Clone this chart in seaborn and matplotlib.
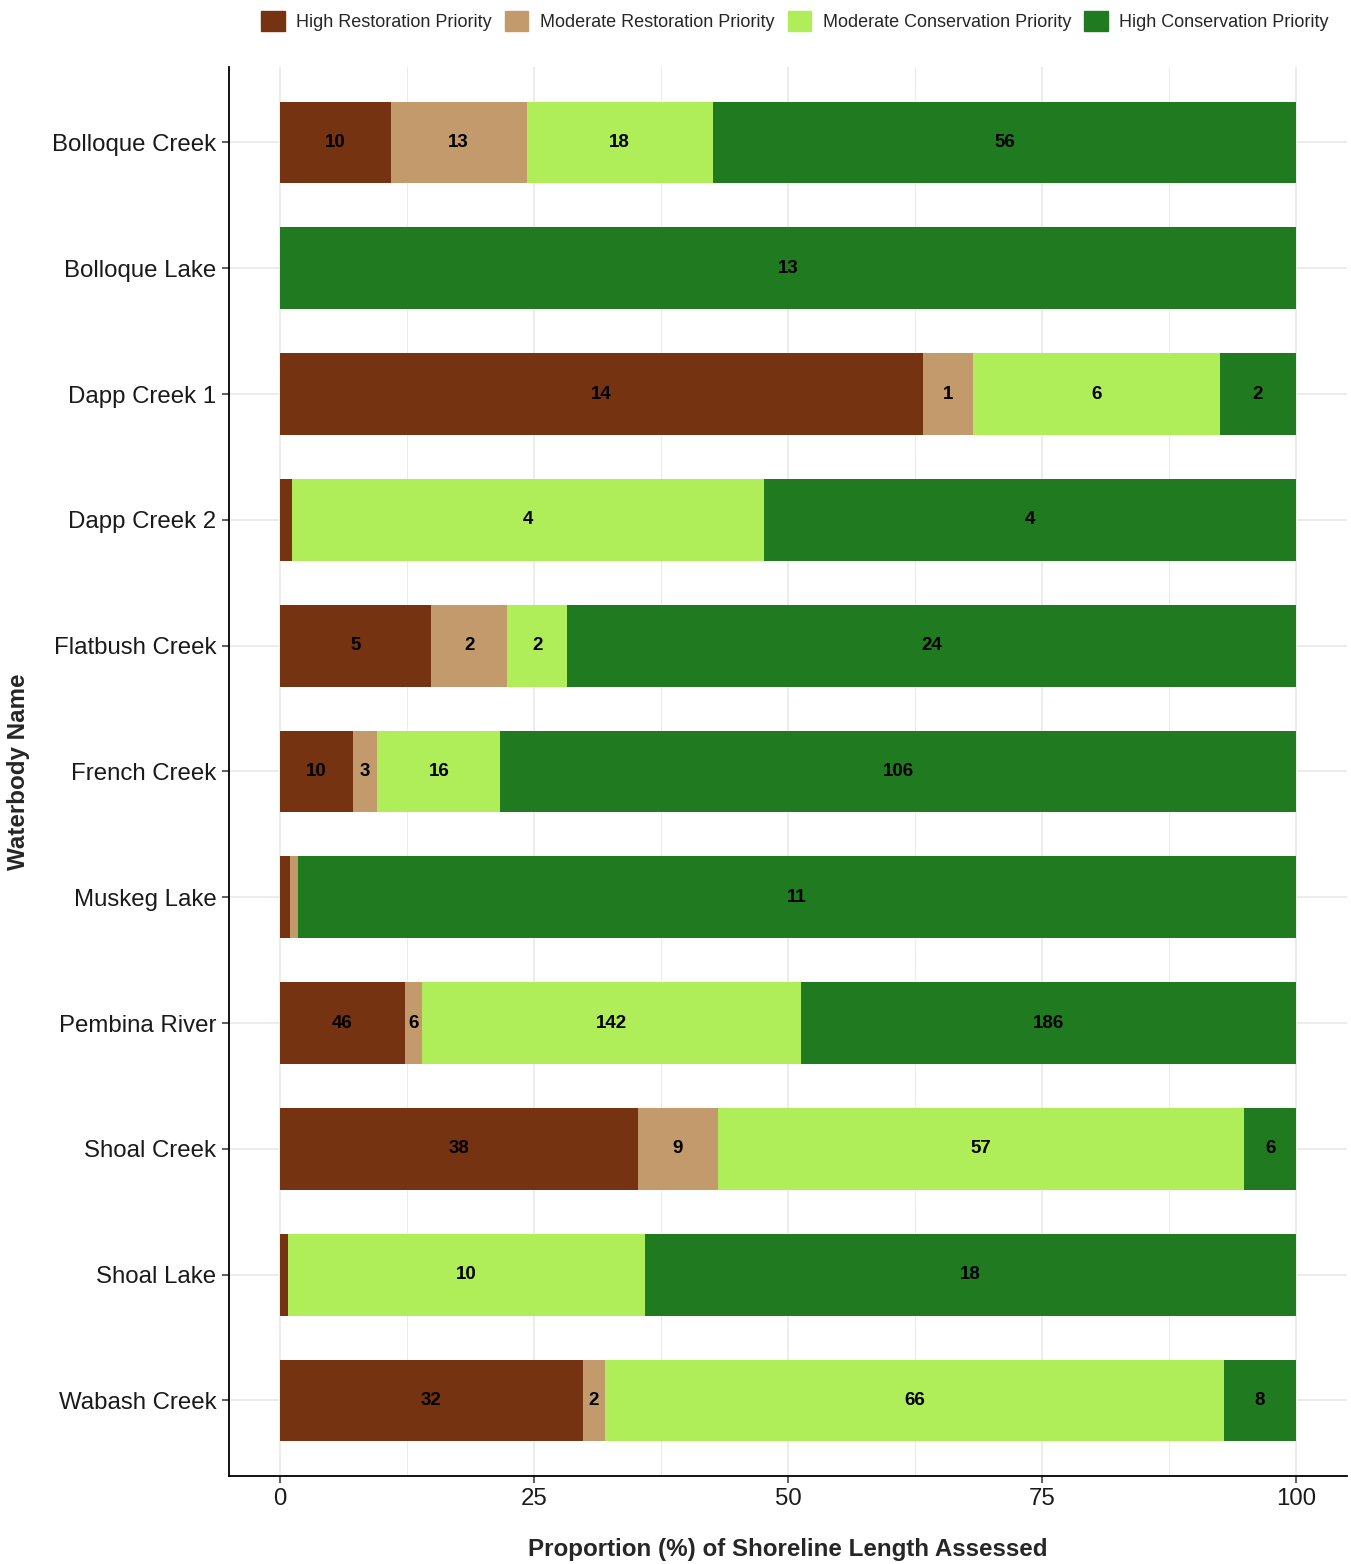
import matplotlib
matplotlib.use("Agg")
import matplotlib.pyplot as plt
import matplotlib.patches as mpatches
import numpy as np
import pandas as pd
import seaborn as sns

waterbodies = ["Bolloque Creek", "Bolloque Lake", "Dapp Creek 1", "Dapp Creek 2",
               "Flatbush Creek", "French Creek", "Muskeg Lake", "Pembina River",
               "Shoal Creek", "Shoal Lake", "Wabash Creek"]
priorities = ["High Restoration Priority", "Moderate Restoration Priority",
              "Moderate Conservation Priority", "High Conservation Priority"]
colors = ["#753312", "#C29A6C", "#AFEE58", "#207B20"]

# proportion (%) of shoreline length per priority class
high_rest_pct = [10.9, 0.0, 63.3, 1.2, 14.9, 7.2, 1.0, 12.3, 35.2, 0.8, 29.8]
mod_rest_pct = [13.4, 0.0, 4.9, 0.0, 7.5, 2.4, 0.8, 1.7, 7.9, 0.0, 2.2]
mod_cons_pct = [18.3, 0.0, 24.3, 46.4, 5.9, 12.1, 0.0, 37.3, 51.8, 35.1, 60.9]
high_cons_pct = [57.4, 100.0, 7.5, 52.4, 71.7, 78.3, 98.2, 48.7, 5.1, 64.1, 7.1]

# number of segments per priority class (printed on bars)
high_rest_n = [10, 0, 14, 1, 5, 10, 1, 46, 38, 1, 32]
mod_rest_n = [13, 0, 1, 0, 2, 3, 1, 6, 9, 0, 2]
mod_cons_n = [18, 0, 6, 4, 2, 16, 0, 142, 57, 10, 66]
high_cons_n = [56, 13, 2, 4, 24, 106, 11, 186, 6, 18, 8]

pct = pd.DataFrame(dict(zip(priorities, [high_rest_pct, mod_rest_pct, mod_cons_pct, high_cons_pct])),
                   index=waterbodies)
cnt = pd.DataFrame(dict(zip(priorities, [high_rest_n, mod_rest_n, mod_cons_n, high_cons_n])),
                   index=waterbodies)
cum = pct.cumsum(axis=1)

sns.set_theme(style="white")
plt.rcParams["font.family"] = ["Liberation Sans", "DejaVu Sans"]

fig = plt.figure(figsize=(13.51, 15.64), dpi=100)
ax = fig.add_axes([0.1695, 0.0563, 0.8275, 0.9009])

# draw stacked bars by layering cumulative totals, widest first
for prio, col in reversed(list(zip(priorities, colors))):
    d = pd.DataFrame({"Waterbody": waterbodies, "value": cum[prio].values})
    sns.barplot(data=d, x="value", y="Waterbody", color=col, width=0.65,
                saturation=1, linewidth=0, ax=ax, zorder=3)

# segment labels
for i, wb in enumerate(waterbodies):
    left = 0.0
    for prio in priorities:
        w = pct.loc[wb, prio]
        if w >= 1.5:
            ax.text(left + w / 2, i, str(cnt.loc[wb, prio]), ha="center", va="center",
                    fontsize=13.5, fontweight="bold", color="black", zorder=4)
        left += w

ax.set_xlim(-5, 105)
ax.set_ylim(len(waterbodies) - 0.4, -0.6)
ax.set_xticks([0, 25, 50, 75, 100])
ax.set_xticks([12.5, 37.5, 62.5, 87.5], minor=True)
ax.grid(axis="x", which="major", color="#EBEBEB", linewidth=1.3, zorder=0)
ax.grid(axis="x", which="minor", color="#EBEBEB", linewidth=0.7, zorder=0)
ax.grid(axis="y", which="major", color="#EBEBEB", linewidth=1.3, zorder=0)
ax.set_axisbelow(True)

for side in ["top", "right"]:
    ax.spines[side].set_visible(False)
for side in ["left", "bottom"]:
    ax.spines[side].set_color("black")
    ax.spines[side].set_linewidth(1.3)

ax.tick_params(axis="both", which="major", length=5, width=1.1, color="#333333",
               labelsize=17.3, labelcolor="#1A1A1A", pad=4)
ax.tick_params(axis="both", which="minor", length=0)
ax.tick_params(left=True, bottom=True)

ax.set_xlabel("Proportion (%) of Shoreline Length Assessed", fontsize=17.4,
              fontweight="bold", labelpad=20)
ax.set_ylabel("Waterbody Name", fontsize=17.4, fontweight="bold")
ax.yaxis.set_label_coords(-0.178, 0.5)

handles = [mpatches.Patch(color=c, label=p) for p, c in zip(priorities, colors)]
fig.legend(handles=handles, loc="center", bbox_to_anchor=(795 / 1351, 1 - 21 / 1564),
           ncol=4, frameon=False, fontsize=13, handlelength=1.3, handleheight=1.3,
           handletextpad=0.65, columnspacing=0.72)

fig.savefig("out.png", dpi=100)
plt.close(fig)
